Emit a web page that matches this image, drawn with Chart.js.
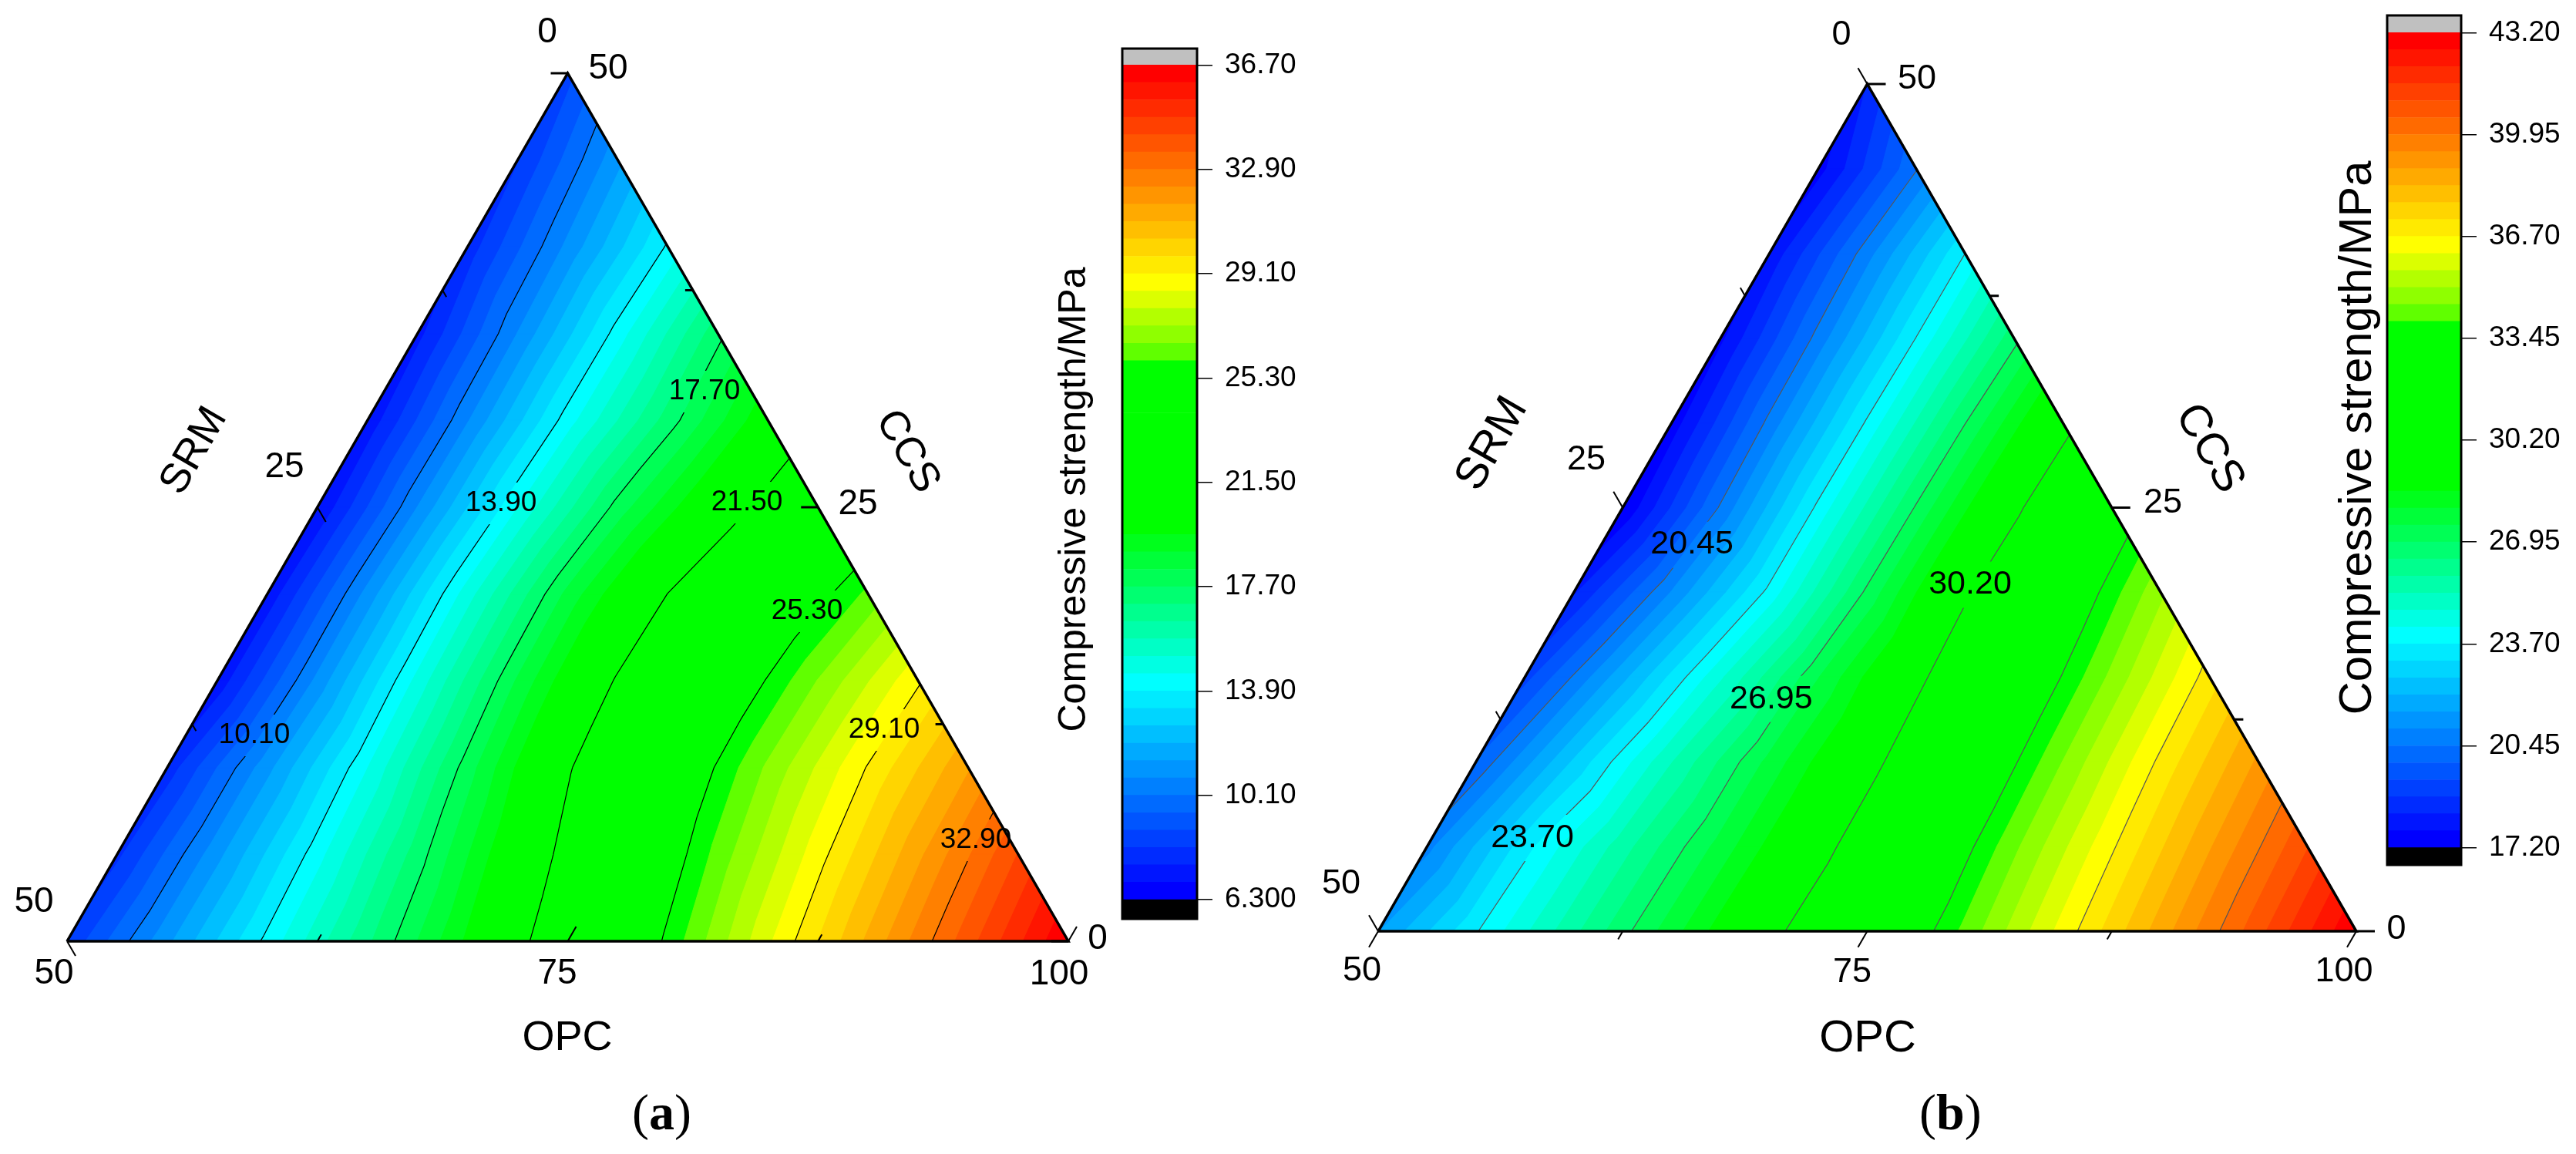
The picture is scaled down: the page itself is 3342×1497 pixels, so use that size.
<!DOCTYPE html>
<html><head><meta charset="utf-8">
<script src="https://cdn.jsdelivr.net/npm/chart.js@4"></script>
<style>html,body{margin:0;padding:0;background:#fff;width:3342px;height:1497px;overflow:hidden}
canvas{position:absolute;left:0;top:0}</style></head>
<body>
<canvas id="terA" width="3342" height="1497"></canvas>
<canvas id="barA" width="3342" height="1497"></canvas>
<canvas id="terB" width="3342" height="1497"></canvas>
<canvas id="barB" width="3342" height="1497"></canvas>
<script>
// strength (MPa) read at ternary grid nodes: each row is a CCS value, nodes run OPC = 50, 55, ...
const ccsRows = [0,5,10,15,20,25,30,35,40,45,50];
const strengthA_ccs00 = [8.3,11.21,14.10,16.94,19.74,22.57,25.48,28.35,31.13,33.9,36.7];
const strengthA_ccs05 = [8.03,11.16,14.28,17.39,20.46,23.38,26.17,28.83,31.48,34.2];
const strengthA_ccs10 = [7.81,11.15,14.52,18.03,21.37,24.11,26.69,29.16,31.56];
const strengthA_ccs15 = [7.1,10.92,14.75,18.43,21.65,24.16,26.6,29.0];
const strengthA_ccs20 = [7.08,10.97,14.87,18.53,21.52,23.9,26.1];
const strengthA_ccs25 = [6.92,10.75,14.52,17.97,20.7,23.2];
const strengthA_ccs30 = [7.08,10.68,14.24,17.36,20.2];
const strengthA_ccs35 = [7.33,10.76,14.19,17.5];
const strengthA_ccs40 = [7.82,10.9,14.0];
const strengthA_ccs45 = [8.15,11.17];
const strengthA_ccs50 = [8.6];
const strengthB_ccs00 = [21.5,23.65,25.73,27.8,29.86,31.98,34.15,36.37,38.59,40.85,43.2];
const strengthB_ccs05 = [20.79,23.49,25.63,27.71,29.76,32.08,34.4,36.61,38.81,41.0];
const strengthB_ccs10 = [19.95,22.7,25.3,27.67,29.78,32.18,34.55,36.84,38.97];
const strengthB_ccs15 = [19.15,21.9,24.69,27.47,29.91,32.33,34.67,36.97];
const strengthB_ccs20 = [18.2,21.03,23.88,27.09,30.04,32.57,34.95];
const strengthB_ccs25 = [17.2,20.53,23.85,27.02,29.93,32.7];
const strengthB_ccs30 = [17.4,20.63,23.8,26.93,29.8];
const strengthB_ccs35 = [17.6,20.67,23.72,26.75];
const strengthB_ccs40 = [17.85,20.77,23.7];
const strengthB_ccs45 = [17.5,20.4];
const strengthB_ccs50 = [18.3];

const barTicksA = [6.3,10.1,13.9,17.7,21.5,25.3,29.1,32.9,36.7];
const barLabelsA = ['6.300','10.10','13.90','17.70','21.50','25.30','29.10','32.90','36.70'];
const barTicksB = [17.2,20.45,23.7,26.95,30.2,33.45,36.7,39.95,43.2];
const barLabelsB = ['17.20','20.45','23.70','26.95','30.20','33.45','36.70','39.95','43.20'];

const contourLabelsA = ['10.10','13.90','17.70','21.50','25.30','29.10','32.90'];
const contourValuesA = [10.1,13.9,17.7,21.5,25.3,29.1,32.9];
const contourLabelXA = [59.35,71.67,81.83,83.95,86.95,90.8,95.38];
const contourLabelYA = [11.86,25.22,31.66,25.27,19.0,12.17,5.82];
const contourValuesB = [20.45,23.7,26.95,30.2,33.45,36.7,39.95];
const contourLabelsB = ['20.45','23.70','26.95','30.20'];
const contourLabelXB = [66.04,57.88,70.09,80.26];
const contourLabelYB = [22.81,5.51,13.71,20.45];
const axisTicks = [0,12.5,25,37.5,50];

const FONT = '"Liberation Sans", Arial, sans-serif';
const gridA = [strengthA_ccs00,strengthA_ccs05,strengthA_ccs10,strengthA_ccs15,strengthA_ccs20,strengthA_ccs25,strengthA_ccs30,strengthA_ccs35,strengthA_ccs40,strengthA_ccs45,strengthA_ccs50];
const gridB = [strengthB_ccs00,strengthB_ccs05,strengthB_ccs10,strengthB_ccs15,strengthB_ccs20,strengthB_ccs25,strengthB_ccs30,strengthB_ccs35,strengthB_ccs40,strengthB_ccs45,strengthB_ccs50];

function bandColor(i){
  if(i<=12) return `rgb(0,${Math.round(21.25*i)},255)`;
  if(i<=21) return `rgb(0,255,${Math.round(255-(i-12)*28.33)})`;
  if(i<=30) return 'rgb(0,255,0)';
  if(i<=35) return `rgb(${[96,143,179,219,255][i-31]},255,0)`;
  return `rgb(255,${Math.round(255-(i-35)*21.25)},0)`;
}
function bandLevels(ticks){ // six colour bands between two labelled ticks
  const out=[];
  for(let k=0;k<ticks.length-1;k++) for(let j=0;j<6;j++) out.push(ticks[k]+(ticks[k+1]-ticks[k])*j/6);
  out.push(ticks[ticks.length-1]);
  return out;
}
function triangles(grid){
  const tris=[];
  const node=(r,k)=>({x:50+5*k+ccsRows[r]/2,y:ccsRows[r],z:grid[r][k]});
  for(let r=0;r<10;r++){
    for(let k=0;k<grid[r].length-1;k++){
      tris.push([node(r,k),node(r,k+1),node(r+1,k)]);
      if(k+1<grid[r+1].length) tris.push([node(r,k+1),node(r+1,k+1),node(r+1,k)]);
    }
  }
  return tris;
}
const BREAK={x:NaN,y:NaN};
const cross=(a,b,L)=>{const t=(L-a.z)/(b.z-a.z);return {x:a.x+t*(b.x-a.x),y:a.y+t*(b.y-a.y),z:L};};
function regionAbove(tris,L){
  const pts=[];
  for(const t of tris){
    const poly=[];
    for(let i=0;i<3;i++){
      const a=t[i],b=t[(i+1)%3];
      if(a.z>=L) poly.push(a);
      if((a.z>=L)!==(b.z>=L)) poly.push(cross(a,b,L));
    }
    if(poly.length>=3){ for(const p of poly) pts.push({x:p.x,y:p.y}); pts.push(BREAK); }
  }
  return pts;
}
function contour(tris,L){
  const pts=[];
  for(const t of tris){
    const seg=[];
    for(let i=0;i<3;i++){
      const a=t[i],b=t[(i+1)%3];
      if((a.z>=L)!==(b.z>=L)) seg.push(cross(a,b,L));
    }
    if(seg.length===2){ pts.push({x:seg[0].x,y:seg[0].y},{x:seg[1].x,y:seg[1].y},BREAK); }
  }
  return pts;
}

const polygonFill={
  id:'polygonFill',
  beforeDatasetDraw(chart,args){
    const ds=chart.data.datasets[args.index], ctx=chart.ctx, o=chart.options.plugins.polygonFill||{};
    if(ds.bandFill){
      ctx.save();
      ctx.fillStyle=ds.backgroundColor; ctx.strokeStyle=ds.backgroundColor; ctx.lineWidth=1; ctx.lineJoin='round';
      ctx.beginPath();
      let open=false;
      for(const p of args.meta.data){
        if(!isFinite(p.x)||!isFinite(p.y)){ if(open) ctx.closePath(); open=false; continue; }
        if(!open){ ctx.moveTo(p.x,p.y); open=true; } else ctx.lineTo(p.x,p.y);
      }
      ctx.fill(); ctx.stroke();
      ctx.restore();
    }
    if(ds.contourLine){
      ctx.save();
      ctx.beginPath();
      ctx.rect(0,0,chart.width,chart.height);
      const sx=chart.scales.x, sy=chart.scales.y;
      o.labelX.forEach((lx,i)=>{
        ctx.rect(sx.getPixelForValue(lx)-o.gapW/2,sy.getPixelForValue(o.labelY[i])-o.gapH/2,o.gapW,o.gapH);
      });
      ctx.clip('evenodd');
    }
  },
  afterDatasetDraw(chart,args){
    if(chart.data.datasets[args.index].contourLine) chart.ctx.restore();
  },
  afterDatasetsDraw(chart){
    const o=chart.options.plugins.polygonFill, ctx=chart.ctx, sx=chart.scales.x, sy=chart.scales.y;
    const P=(opc,ccs)=>[sx.getPixelForValue(opc+ccs/2),sy.getPixelForValue(ccs)];
    ctx.save();
    ctx.strokeStyle='#000'; ctx.lineCap='butt';
    const tick=(p,dx,dy,len,w)=>{ctx.lineWidth=w;ctx.beginPath();ctx.moveTo(p[0],p[1]);ctx.lineTo(p[0]+dx*len,p[1]+dy*len);ctx.stroke();};
    const s=o.tickSign, c=.5, h=.866;
    axisTicks.forEach((v,i)=>{
      const len=i%2?o.minor:o.major;
      tick(P(50,50-v),s*c,s*h,len,2);           // SRM along the left side
      tick(P(50+v,0),s*c,-s*h,len,2);           // OPC along the base
      tick(P(100-v,v),-s,0,len,3);              // CCS along the right side
    });
    ctx.fillStyle='#000'; ctx.textAlign='center'; ctx.textBaseline='middle';
    ctx.font=`${o.contourSize}px ${FONT}`;
    o.labelX.forEach((lx,i)=>ctx.fillText(o.labels[i],sx.getPixelForValue(lx),sy.getPixelForValue(o.labelY[i])));
    for(const t of o.texts){
      ctx.save();
      ctx.translate(t.x,t.y); if(t.rot) ctx.rotate(t.rot*Math.PI/180);
      ctx.font=`${t.size}px ${FONT}`;
      ctx.fillText(t.s,0,0);
      ctx.restore();
    }
    // panel letter
    ctx.textAlign='left'; ctx.textBaseline='alphabetic';
    const m=o.panel, f1='66px "Liberation Serif", serif', f2='bold 66px "Liberation Serif", serif';
    let x=m.x;
    ctx.font=f1; ctx.fillText('(',x,m.y); x+=ctx.measureText('(').width;
    ctx.font=f2; ctx.fillText(m.s,x,m.y); x+=ctx.measureText(m.s).width;
    ctx.font=f1; ctx.fillText(')',x,m.y);
    ctx.restore();
  }
};

function makeTernary(id,grid,barTicks,contourValues,box,opts,contourColor){
  const tris=triangles(grid), levels=bandLevels(barTicks);
  const ds=[];
  ds.push({label:'frame',data:[{x:50,y:0},{x:100,y:0},{x:75,y:50},{x:50,y:0}],showLine:true,borderColor:'#000',borderWidth:3.5,pointRadius:0,clip:false,fill:false,borderJoinStyle:'miter'});
  contourValues.forEach(L=>ds.push({label:'contour '+L,contourLine:true,data:contour(tris,L),showLine:true,borderColor:contourColor,borderWidth:1.2,pointRadius:0,spanGaps:false,fill:false}));
  for(let i=47;i>=1;i--) ds.push({label:'band '+i,bandFill:true,data:regionAbove(tris,levels[i]),backgroundColor:bandColor(i),showLine:false,pointRadius:0});
  ds.push({label:'band 0',bandFill:true,data:regionAbove(tris,-1),backgroundColor:bandColor(0),showLine:false,pointRadius:0});
  new Chart(document.getElementById(id),{
    type:'scatter',
    data:{datasets:ds},
    options:{
      responsive:false,animation:false,devicePixelRatio:1,
      layout:{padding:{left:box.l,right:3342-box.r,top:box.t,bottom:1497-box.b}},
      scales:{x:{type:'linear',min:50,max:100,display:false},y:{type:'linear',min:0,max:50,display:false}},
      plugins:{legend:{display:false},tooltip:{enabled:false},polygonFill:opts}
    },
    plugins:[polygonFill]
  });
}

const barFrame={id:'barFrame',afterDatasetsDraw(chart){
  const a=chart.chartArea,c=chart.ctx;c.save();c.strokeStyle='#000';c.lineWidth=3;
  c.strokeRect(a.left,a.top,a.right-a.left,a.bottom-a.top);c.restore();
}};
function makeBar(id,ticks,labels,box,yMin,yMax,tickFont){
  const levels=bandLevels(ticks), ds=[];
  ds.push({label:'below',data:[[yMin,levels[0]]],backgroundColor:'#000',grouped:false});
  for(let i=0;i<48;i++) ds.push({label:'band '+i,data:[[levels[i],levels[i+1]]],backgroundColor:bandColor(i),grouped:false});
  ds.push({label:'above',data:[[levels[48],yMax]],backgroundColor:'#c0c0c0',grouped:false});
  new Chart(document.getElementById(id),{
    type:'bar',
    data:{labels:[''],datasets:ds},
    options:{
      responsive:false,animation:false,devicePixelRatio:1,
      datasets:{bar:{barPercentage:1,categoryPercentage:1,borderWidth:0}},
      layout:{padding:{left:box.l,right:3342-box.r-150,top:box.t,bottom:1497-box.b}},
      scales:{
        x:{display:false},
        y:{position:'right',min:yMin,max:yMax,
          afterBuildTicks:s=>{s.ticks=ticks.map(v=>({value:v}));},
          afterFit:s=>{s.width=150;s.paddingTop=0;s.paddingBottom=0;},
          ticks:{autoSkip:false,maxRotation:0,padding:16,color:'#000',font:{family:FONT,size:tickFont},callback:(v,i)=>labels[i]},
          grid:{drawOnChartArea:false,drawTicks:true,tickLength:20,color:'#000',lineWidth:1.5},
          border:{display:false}}
      },
      plugins:{legend:{display:false},tooltip:{enabled:false}}
    },
    plugins:[barFrame]
  });
}

makeTernary('terA',gridA,barTicksA,contourValuesA,{l:87,r:1386,t:95,b:1221},{
  labels:contourLabelsA,labelX:contourLabelXA,labelY:contourLabelYA,contourSize:37,gapW:104,gapH:54,
  tickSign:1,major:22,minor:10,panel:{s:'a',x:820,y:1465},
  texts:[
    {s:'0',x:710,y:42,size:46},{s:'50',x:789,y:89,size:46},
    {s:'25',x:369,y:606,size:46},{s:'50',x:44,y:1170,size:46},
    {s:'50',x:70,y:1263,size:46},{s:'75',x:723,y:1263,size:46},{s:'100',x:1374,y:1264,size:46},
    {s:'0',x:1424,y:1218,size:46},{s:'25',x:1113,y:654,size:46},
    {s:'OPC',x:736,y:1347,size:54},{s:'SRM',x:252,y:585,size:54,rot:-60},{s:'CCS',x:1177,y:586,size:54,rot:60},
    {s:'Compressive strength/MPa',x:1394,y:648,size:50,rot:-90}
  ]},'#000');
makeBar('barA',barTicksA,barLabelsA,{l:1456,r:1553,t:63,b:1192},5.598,37.3,37);

makeTernary('terB',gridB,barTicksB,contourValuesB,{l:1788,r:3057,t:109,b:1208},{
  labels:contourLabelsB,labelX:contourLabelXB,labelY:contourLabelYB,contourSize:43,gapW:118,gapH:60,
  tickSign:-1,major:24,minor:12,panel:{s:'b',x:2490,y:1465},
  texts:[
    {s:'0',x:2389,y:46,size:45},{s:'50',x:2487,y:103,size:45},
    {s:'25',x:2058,y:597,size:45},{s:'50',x:1740,y:1147,size:45},
    {s:'50',x:1767,y:1260,size:45},{s:'75',x:2403,y:1262,size:45},{s:'100',x:3041,y:1261,size:45},
    {s:'0',x:3109,y:1206,size:45},{s:'25',x:2806,y:653,size:45},
    {s:'OPC',x:2423,y:1348,size:58},{s:'SRM',x:1936,y:576,size:58,rot:-60},{s:'CCS',x:2866,y:582,size:58,rot:60},
    {s:'Compressive strength/MPa',x:3060,y:568,size:59.6,rot:-90}
  ]},'#555');
makeBar('barB',barTicksB,barLabelsB,{l:3097,r:3193,t:20,b:1122},16.65,43.75,37);
</script>
</body></html>
